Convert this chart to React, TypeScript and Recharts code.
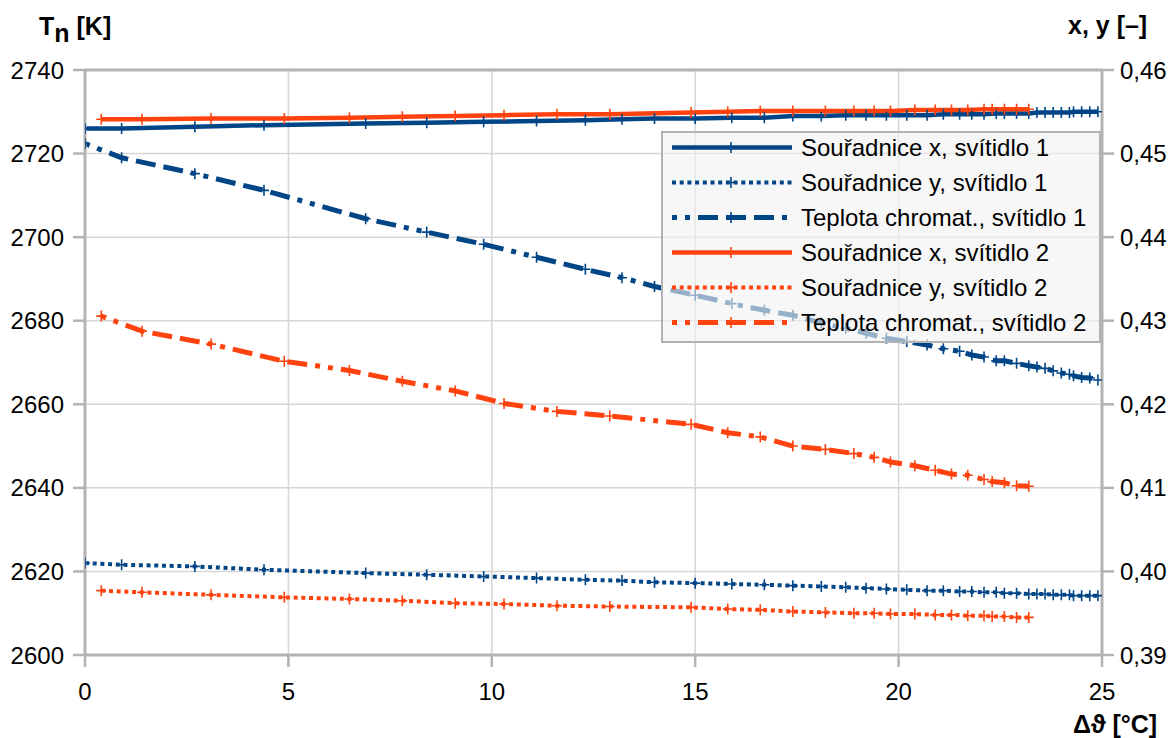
import React from 'react';
import { LineChart, Line, XAxis, YAxis, CartesianGrid, ReferenceLine } from 'recharts';

// ---------- data ----------
// luminaire 1 (svítidlo 1): temperature rise Δϑ [°C]
const dT1 = [0, 0.9, 2.7, 4.4, 6.9, 8.4, 9.8, 11.1, 12.3, 13.2, 14.0, 15.0, 15.9, 16.7, 17.4, 18.1, 18.7, 19.2, 19.7, 20.2, 20.7, 21.1, 21.5, 21.8, 22.1, 22.4, 22.6, 22.9, 23.2, 23.4, 23.6, 23.8, 24.0, 24.2, 24.3, 24.5, 24.7, 24.9];
const xLum1 = [0.4530, 0.4530, 0.4532, 0.4534, 0.4536, 0.4537, 0.4538, 0.4539, 0.4540, 0.4541, 0.4542, 0.4542, 0.4543, 0.4543, 0.4545, 0.4545, 0.4546, 0.4546, 0.4546, 0.4546, 0.4546, 0.4547, 0.4547, 0.4547, 0.4547, 0.4548, 0.4548, 0.4548, 0.4548, 0.4549, 0.4549, 0.4549, 0.4549, 0.4549, 0.4550, 0.4550, 0.4550, 0.4550];
const yLum1 = [0.4010, 0.4008, 0.4006, 0.4002, 0.3998, 0.3996, 0.3994, 0.3992, 0.3990, 0.3989, 0.3987, 0.3986, 0.3985, 0.3984, 0.3983, 0.3982, 0.3981, 0.3980, 0.3979, 0.3978, 0.3977, 0.3977, 0.3976, 0.3976, 0.3975, 0.3975, 0.3974, 0.3974, 0.3973, 0.3973, 0.3973, 0.3972, 0.3972, 0.3972, 0.3971, 0.3971, 0.3971, 0.3971];
const tLum1 = [2722.4, 2719.0, 2715.2, 2711.2, 2704.4, 2701.2, 2698.3, 2695.2, 2692.3, 2690.3, 2688.2, 2686.1, 2684.1, 2682.5, 2681.3, 2679.5, 2678.2, 2677.0, 2675.8, 2675.0, 2674.2, 2673.3, 2672.7, 2671.8, 2671.3, 2670.4, 2670.4, 2669.8, 2669.2, 2668.9, 2668.6, 2668.0, 2667.5, 2667.2, 2666.8, 2666.4, 2666.3, 2665.8];

// luminaire 2 (svítidlo 2)
const dT2 = [0.4, 1.4, 3.1, 4.9, 6.5, 7.8, 9.1, 10.3, 11.6, 12.9, 14.9, 15.8, 16.6, 17.4, 18.2, 18.9, 19.4, 19.8, 20.4, 20.9, 21.3, 21.7, 22.1, 22.3, 22.6, 22.9, 23.2];
const xLum2 = [0.4541, 0.4541, 0.4542, 0.4542, 0.4543, 0.4544, 0.4545, 0.4546, 0.4547, 0.4547, 0.4549, 0.4550, 0.4551, 0.4551, 0.4551, 0.4551, 0.4551, 0.4551, 0.4552, 0.4552, 0.4552, 0.4552, 0.4553, 0.4553, 0.4553, 0.4553, 0.4553];
const yLum2 = [0.3977, 0.3975, 0.3972, 0.3969, 0.3967, 0.3965, 0.3962, 0.3961, 0.3959, 0.3958, 0.3957, 0.3955, 0.3954, 0.3952, 0.3951, 0.3950, 0.3950, 0.3949, 0.3949, 0.3948, 0.3948, 0.3947, 0.3947, 0.3946, 0.3946, 0.3945, 0.3945];
const tLum2 = [2681.1, 2677.5, 2674.4, 2670.3, 2668.1, 2665.5, 2663.2, 2660.2, 2658.3, 2657.2, 2655.2, 2653.2, 2652.2, 2650.0, 2649.2, 2648.2, 2647.3, 2646.2, 2645.3, 2644.2, 2643.3, 2643.0, 2642.0, 2641.5, 2641.2, 2640.5, 2640.4];

const xTicks = [0, 5, 10, 15, 20, 25];
const leftTicks = [2600, 2620, 2640, 2660, 2680, 2700, 2720, 2740];
const rightTicks = [0.39, 0.40, 0.41, 0.42, 0.43, 0.44, 0.45, 0.46];

const seriesNames = [
  'Souřadnice x, svítidlo 1',
  'Souřadnice y, svítidlo 1',
  'Teplota chromat., svítidlo 1',
  'Souřadnice x, svítidlo 2',
  'Souřadnice y, svítidlo 2',
  'Teplota chromat., svítidlo 2',
];

// ---------- styling ----------
const BLUE = '#004586';
const ORANGE = '#ff420e';
const FONT = "'Liberation Sans', Arial, sans-serif";
const AXIS_GRAY = '#b3b3b3';
const DOT_DASH = '4 3.7';
const DASH_DOT = '5 8 5 8 20 8 20 8 20 8';

const build = (ts: number[], vals: number[]) => ts.map((t, i) => ({ t, v: vals[i] }));

const series = [
  { name: seriesNames[0], data: build(dT1, xLum1), axis: 'r', color: BLUE, width: 4.5, dash: undefined as string | undefined },
  { name: seriesNames[1], data: build(dT1, yLum1), axis: 'r', color: BLUE, width: 4, dash: DOT_DASH },
  { name: seriesNames[2], data: build(dT1, tLum1), axis: 'l', color: BLUE, width: 5, dash: DASH_DOT },
  { name: seriesNames[3], data: build(dT2, xLum2), axis: 'r', color: ORANGE, width: 4.5, dash: undefined as string | undefined },
  { name: seriesNames[4], data: build(dT2, yLum2), axis: 'r', color: ORANGE, width: 4, dash: DOT_DASH },
  { name: seriesNames[5], data: build(dT2, tLum2), axis: 'l', color: ORANGE, width: 5, dash: DASH_DOT },
];

const plusDot = (color: string) => (props: any) => {
  const { cx, cy, index } = props;
  if (cx == null || cy == null) return <g key={`p${index}`} />;
  return (
    <path
      key={`p${index}`}
      d={`M${cx - 5},${cy}H${cx + 5}M${cx},${cy - 5.5}V${cy + 5.5}`}
      stroke={color}
      strokeWidth={1.6}
      fill="none"
    />
  );
};

const W = 1176;
const H = 738;

export default function App() {
  const tickStyle = { fill: '#000', fontSize: 24, fontFamily: FONT };
  return (
    <div style={{ position: 'absolute', left: 0, top: 0, width: W, height: H, background: '#fff', fontFamily: FONT }}>
      <LineChart width={W} height={H} margin={{ top: 70, right: 0, bottom: 0, left: 0 }}>
        <CartesianGrid yAxisId="l" stroke="#d6d6d6" strokeWidth={1.5} />
        <XAxis
          dataKey="t"
          type="number"
          domain={[0, 25]}
          ticks={xTicks}
          allowDataOverflow
          height={83}
          tickSize={12}
          tickMargin={16}
          tick={tickStyle}
          axisLine={{ stroke: AXIS_GRAY, strokeWidth: 3 }}
          tickLine={{ stroke: AXIS_GRAY, strokeWidth: 2.5 }}
        />
        <YAxis
          yAxisId="l"
          orientation="left"
          type="number"
          domain={[2600, 2740]}
          ticks={leftTicks}
          allowDataOverflow
          width={85}
          tickSize={12}
          tickMargin={9}
          tick={tickStyle}
          axisLine={{ stroke: AXIS_GRAY, strokeWidth: 3 }}
          tickLine={{ stroke: AXIS_GRAY, strokeWidth: 2.5 }}
        />
        <YAxis
          yAxisId="r"
          orientation="right"
          type="number"
          domain={[0.39, 0.46]}
          ticks={rightTicks}
          allowDataOverflow
          width={74}
          tickSize={12}
          tickMargin={6}
          tick={tickStyle}
          tickFormatter={(v: number) => v.toFixed(2).replace('.', ',')}
          axisLine={{ stroke: AXIS_GRAY, strokeWidth: 3 }}
          tickLine={{ stroke: AXIS_GRAY, strokeWidth: 2.5 }}
        />
        <ReferenceLine yAxisId="l" y={2740} stroke={AXIS_GRAY} strokeWidth={3} />
        {series.map((s) => (
          <Line
            key={s.name}
            name={s.name}
            data={s.data}
            dataKey="v"
            yAxisId={s.axis}
            type="linear"
            stroke={s.color}
            strokeWidth={s.width}
            strokeDasharray={s.dash}
            dot={plusDot(s.color)}
            activeDot={false}
            isAnimationActive={false}
          />
        ))}
      </LineChart>

      {/* axis titles */}
      <svg width={W} height={H} style={{ position: 'absolute', left: 0, top: 0, pointerEvents: 'none' }}>
        <text x={39} y={35} fontFamily={FONT} fontWeight="bold" fontSize={25} fill="#000">
          T<tspan dy={7}>n</tspan><tspan dy={-7}> [K]</tspan>
        </text>
        <text x={1068} y={33.5} fontFamily={FONT} fontWeight="bold" fontSize={25} fill="#000">
          x, y [–]
        </text>
        <text x={1073} y={733} fontFamily={FONT} fontWeight="bold" fontSize={25} fill="#000">
          Δϑ [°C]
        </text>
      </svg>

      {/* legend */}
      <div
        style={{
          position: 'absolute',
          left: 661,
          top: 131,
          width: 440,
          height: 212,
          boxSizing: 'border-box',
          border: `2px solid ${AXIS_GRAY}`,
          background: 'rgba(242,242,242,0.62)',
        }}
      >
        {series.map((s, i) => (
          <div
            key={s.name}
            style={{
              position: 'absolute',
              left: 0,
              top: -3.2 + 35.1 * i,
              height: 35,
              display: 'flex',
              alignItems: 'center',
              whiteSpace: 'nowrap',
            }}
          >
            <svg width={120} height={35} style={{ marginLeft: 9, display: 'block' }}>
              <line x1={0} y1={17.5} x2={120} y2={17.5} stroke={s.color} strokeWidth={s.width} strokeDasharray={s.dash} />
              <path d="M59,12V23M54,17.5H64" stroke={s.color} strokeWidth={1.6} fill="none" />
            </svg>
            <span style={{ marginLeft: 9, fontSize: 24, fontFamily: FONT, color: '#000', lineHeight: '35px' }}>{s.name}</span>
          </div>
        ))}
      </div>
    </div>
  );
}
